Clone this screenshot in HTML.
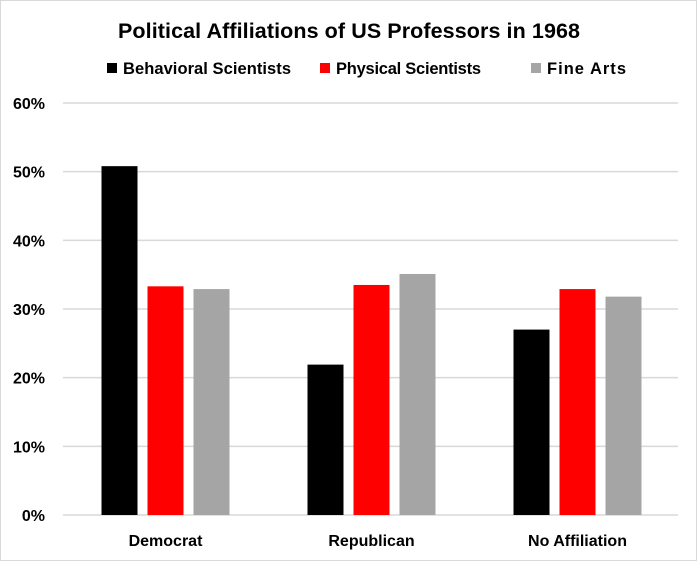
<!DOCTYPE html>
<html><head><meta charset="utf-8"><style>
body{margin:0;background:#fff;font-family:"Liberation Sans",sans-serif;}
#c{position:absolute;left:0;top:0;width:697px;height:561px;border:1px solid #d9d9d9;box-sizing:border-box;}
</style></head><body>
<div id="c">
<svg id="s" width="697" height="561" xmlns="http://www.w3.org/2000/svg" font-family="Liberation Sans, sans-serif" font-weight="bold">
<text x="348" y="37" text-anchor="middle" font-size="21.5" fill="#000" textLength="462">Political Affiliations of US Professors in 1968</text>
<g id="legend"></g>
<g id="grid"></g>
<g id="bars"></g>
<g id="labels"></g>
</svg>
</div>
<script>
const categories=["Democrat","Republican","No Affiliation"];
const seriesNames=["Behavioral Scientists","Physical Scientists","Fine Arts"];
const behavioral=[50.8,21.9,27.0];
const physical=[33.3,33.5,32.9];
const fineArts=[32.9,35.1,31.8];
const yTicks=[0,10,20,30,40,50,60];
const colors=["#000000","#ff0000","#a5a5a5"];
const series=[behavioral,physical,fineArts];
const NS="http://www.w3.org/2000/svg";
const x0=61.5,catW=206,y0=514,pxPer=6.867,barW=36,gap=10;
const yScale=v=>y0-v*pxPer;
const xCat=i=>x0+catW*i+catW/2;
function mk(tag,attrs,parent){const e=document.createElementNS(NS,tag);for(const k in attrs)e.setAttribute(k,attrs[k]);parent.appendChild(e);return e;}
const grid=document.getElementById('grid'),bars=document.getElementById('bars'),labels=document.getElementById('labels'),legend=document.getElementById('legend');
yTicks.forEach(t=>{
  const l=mk('line',{x1:62,x2:677,y1:yScale(t),y2:yScale(t),stroke:'#d9d9d9','stroke-width':1.5},grid);
  
  
  const tx=mk('text',{x:44,y:yScale(t)+6,'text-anchor':'end','font-size':16,fill:'#000'},labels);
  tx.textContent=t+'%';
  
  
});
categories.forEach((c,i)=>{
  const start=xCat(i)-(3*barW+2*gap)/2;
  series.forEach((s,j)=>{
    const r=mk('rect',{x:start+j*(barW+gap),y:yScale(s[i]),width:barW,height:s[i]*pxPer,fill:colors[j]},bars);
    
    
  });
  const tx=mk('text',{x:xCat(i),y:545,'text-anchor':'middle','font-size':16,fill:'#000'},labels);
  tx.textContent=c;
  
  
});
const legX=[106,319,530];
const legLen=[168,145,79];
seriesNames.forEach((n,j)=>{
  const r=mk('rect',{x:legX[j],y:62,width:10,height:10,fill:colors[j]},legend);
  
  
  const t=mk('text',{x:legX[j]+16,y:73,'font-size':16.5,fill:'#000',textLength:legLen[j]},legend);
  t.textContent=n;
  
  
});
</script>
</body></html>
